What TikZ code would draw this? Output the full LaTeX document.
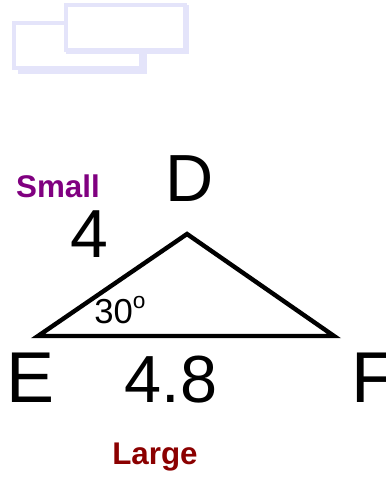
\documentclass[tikz,border=0pt]{standalone}
\usepackage{fontspec}
\setmainfont{Liberation Sans}
\definecolor{lavender}{RGB}{228,228,250}
\definecolor{smallpurple}{RGB}{128,0,128}
\definecolor{largered}{RGB}{139,0,0}
\begin{document}
\begin{tikzpicture}[
    x=0.75pt, y=-0.75pt,
    vertex/.style={anchor=base, inner sep=0pt, font=\fontsize{54}{54}\selectfont},
    measure/.style={anchor=base, inner sep=0pt, font=\fontsize{50}{50}\selectfont},
    tag/.style={anchor=base, inner sep=0pt, font=\fontsize{23.5}{23.5}\selectfont\bfseries},
    card/.style={draw=lavender, line width=3pt, fill=white},
    side/.style={draw, line width=3.3pt, miter limit=10}
]
\useasboundingbox (0,0) rectangle (385,477);

% Cards
\draw[card] (20,26) rectangle (145,72);
\draw[card] (14,23) rectangle (141,68);
\draw[card] (68,7) rectangle (187,52);
\draw[card] (66,5) rectangle (185,50);

% Triangle
\coordinate (e) at (38,336);
\coordinate (d) at (187,234);
\coordinate (f) at (334,336);
\draw[side] (e) -- (d) -- (f) -- cycle;

% Vertex labels
\node[vertex, font=\fontsize{50}{50}\selectfont] (lblD) at (190,201) {D};
\node[vertex] (lblE) at (31,402) {E};
\node[vertex, anchor=base west] (lblF) at (351,402) {F};

% Measures
\node[measure, font=\fontsize{51}{51}\selectfont] (sideDE) at (89,257) {4};
\node[measure] (sideEF) at (171,402) {4.8};
\node[measure, font=\fontsize{26}{26}\selectfont] (angleE) at (120,323)
    {30\raisebox{0.42em}{\fontsize{17}{17}\selectfont o}};

% Tags
\node[tag, text=smallpurple] (small) at (58,197) {Small};
\node[tag, text=largered] (large) at (155,464) {Large};

\end{tikzpicture}
\end{document}
